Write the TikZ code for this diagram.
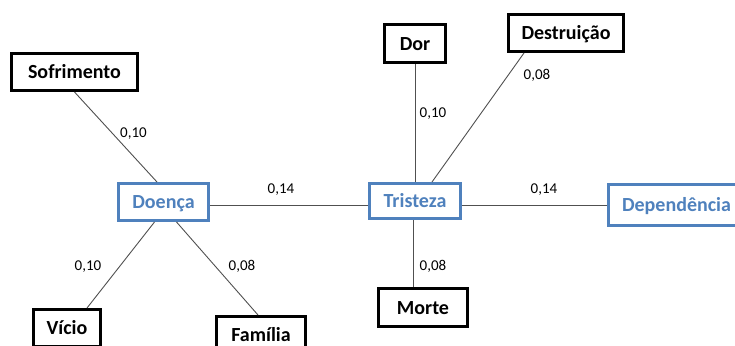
\documentclass[tikz,border=0pt]{standalone}
\usepackage{fontspec}
\setmainfont{Carlito}
\definecolor{accent}{HTML}{4F81BD}
\definecolor{edgegray}{HTML}{505050}
\begin{document}
\begin{tikzpicture}[x=1pt,y=-1pt,
  term/.style={draw=black, line width=3pt, fill=white, inner sep=0pt,
    font=\fontsize{20}{24}\selectfont\bfseries, text height=13pt, text depth=0pt},
  hub/.style={draw=accent, line width=3pt, fill=white, inner sep=0pt, text=accent,
    font=\fontsize{20}{24}\selectfont\bfseries, text height=13pt, text depth=0pt},
  link/.style={draw=edgegray, line width=0.9pt},
  weight/.style={anchor=base, inner sep=0pt, font=\fontsize{15}{18}\selectfont}]
\useasboundingbox (0,0) rectangle (735,345);

% central concepts
\node[hub, minimum width=90pt, minimum height=37pt] (doe) at (163.5,202) {Doença};
\node[hub, minimum width=91pt, minimum height=35pt] (tri) at (415,201) {Tristeza};
\node[hub, minimum width=136pt, minimum height=41pt] (dep) at (676.5,205) {Dependência};

% outer concepts
\node[term, minimum width=126pt, minimum height=37pt] (sof) at (74.5,72) {Sofrimento};
\node[term, minimum width=67pt, minimum height=37pt] (vic) at (67,328) {Vício};
\node[term, minimum width=89pt, minimum height=37pt] (fam) at (261,335) {Família};
\node[term, minimum width=61pt, minimum height=38pt] (dor) at (415,43.5) {Dor};
\node[term, minimum width=115pt, minimum height=37pt] (des) at (566,33) {Destruição};
\node[term, minimum width=89pt, minimum height=38pt] (mor) at (423,307.5) {Morte};

% connectors
\draw[link] (sof.south) -- ([xshift=-6.5pt]doe.north);
\draw[link] (doe.east |- dep.west) -- (tri.west |- dep.west);
\draw[link] ([xshift=-9pt]doe.south) -- ([xshift=20pt]vic.north);
\draw[link] ([xshift=13pt]doe.south) -- ([xshift=-3pt]fam.north);
\draw[link] (dor.south) -- (dor.south |- tri.north);
\draw[link] ([xshift=-42pt]des.south) -- ([xshift=17pt]tri.north);
\draw[link] ([xshift=-10pt]mor.north |- tri.south) -- ([xshift=-10pt]mor.north);
\draw[link] (tri.east |- dep.west) -- (dep.west);

% weights
\node[weight] (w1) at (133.5,137) {0,10};
\node[weight] (w2) at (281,193) {0,14};
\node[weight] (w3) at (88,270) {0,10};
\node[weight] (w4) at (242,270) {0,08};
\node[weight] (w5) at (433,117) {0,10};
\node[weight] (w6) at (537,79) {0,08};
\node[weight] (w7) at (433,270) {0,08};
\node[weight] (w8) at (544,193) {0,14};
\end{tikzpicture}
\end{document}
